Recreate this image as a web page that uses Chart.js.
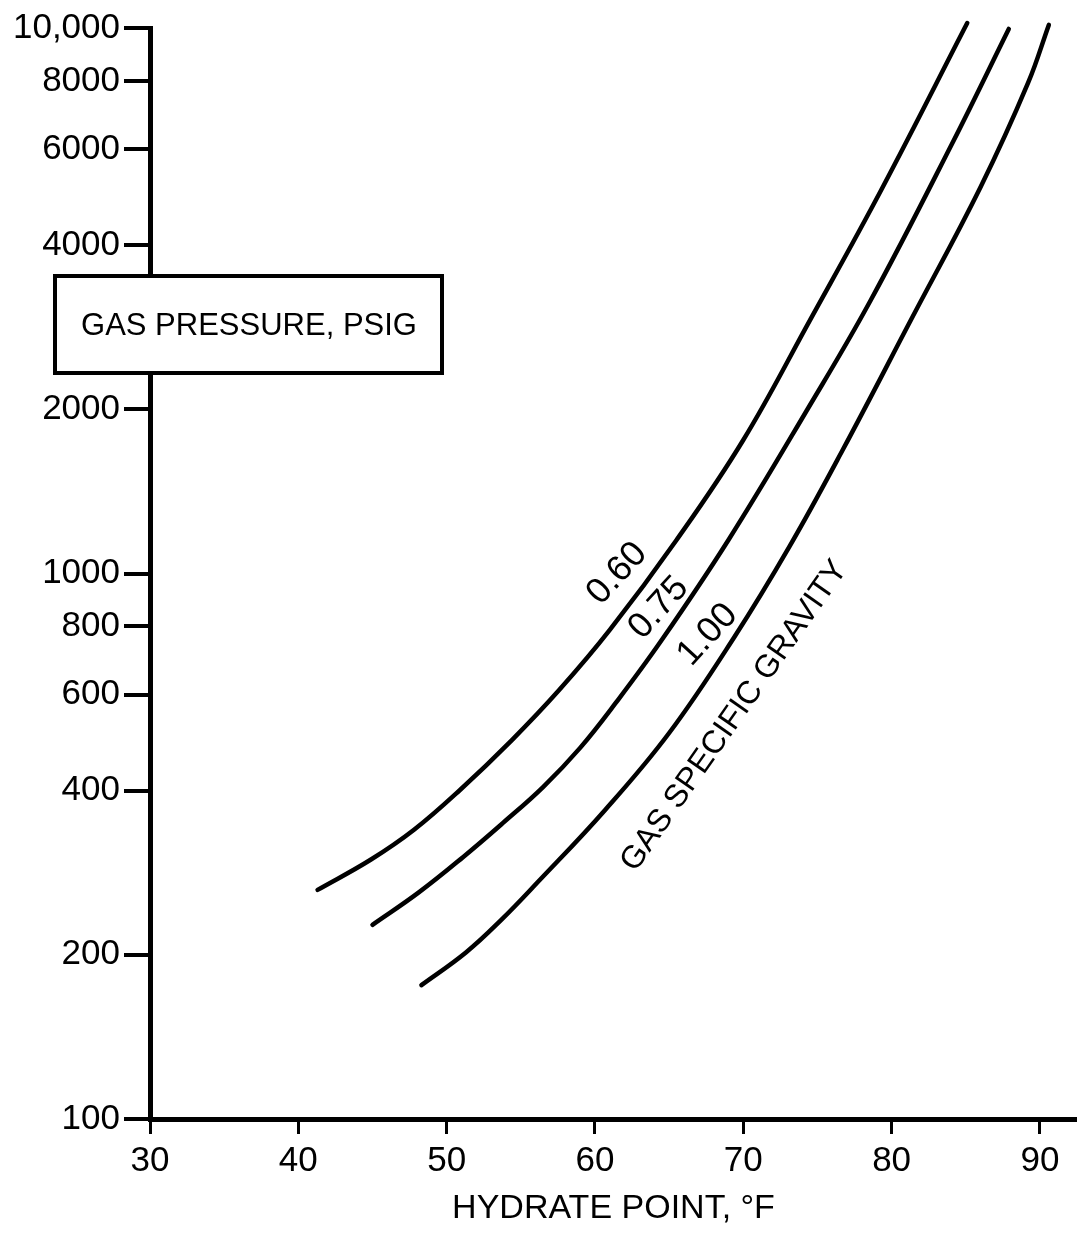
<!DOCTYPE html>
<html>
<head>
<meta charset="utf-8">
<title>Hydrate point vs gas pressure</title>
<script src="https://cdn.jsdelivr.net/npm/chart.js@4.4.1/dist/chart.umd.min.js"></script>
<style>
  html, body { margin: 0; padding: 0; background: #fff; }
  #wrap { width: 1077px; height: 1240px; position: relative; }
</style>
</head>
<body>
<div id="wrap"><canvas id="hydrateChart"></canvas></div>
<script>
// hydrate point (deg F) against gas pressure (psig), one curve per gas gravity
const sg060Temp = [41.3, 44.9, 47.8, 50.9, 54.4, 57.6, 61.0, 65.5, 70.0, 74.5, 79.3, 85.1];
const sg060Psi  = [263, 299, 339, 401, 495, 612, 788, 1152, 1757, 2915, 5047, 10210];

const sg075Temp = [45.0, 48.1, 51.1, 53.8, 56.5, 59.0, 61.4, 64.5, 69.0, 74.3, 78.6, 84.1, 87.9];
const sg075Psi  = [227, 260, 302, 349, 406, 479, 579, 755, 1152, 1994, 3172, 6155, 9960];

const sg100Temp = [48.3, 51.3, 53.7, 56.1, 60.7, 65.0, 69.4, 73.1, 76.7, 81.3, 86.0, 89.2, 90.6];
const sg100Psi  = [176, 202, 232, 271, 369, 510, 765, 1119, 1684, 2915, 5111, 7929, 10130];

const xTicks = [30, 40, 50, 60, 70, 80, 90];
const yTicks = [100, 200, 400, 600, 800, 1000, 2000, 4000, 6000, 8000, 10000];

const curveLabels = ['0.60', '0.75', '1.00'];
const curveLabelTemp = [61.5, 64.3, 67.6];
const curveLabelPsi = [1000, 865, 772];

const sans = '"Liberation Sans", Arial, sans-serif';

function toPoints(xs, ys) {
  return xs.map((t, i) => ({ x: t, y: ys[i] }));
}

function curve(xs, ys) {
  return {
    data: toPoints(xs, ys),
    borderColor: '#000',
    borderWidth: 4.5,
    borderCapStyle: 'round',
    pointRadius: 0,
    fill: false,
    tension: 0.4,
    clip: false
  };
}

const annotate = {
  id: 'annotate',
  afterDraw(chart) {
    const { ctx, scales: { x, y } } = chart;
    ctx.save();
    // boxed y-axis caption sitting on the axis line
    ctx.fillStyle = '#fff';
    ctx.fillRect(55, 276, 387, 97);
    ctx.lineWidth = 4;
    ctx.strokeStyle = '#000';
    ctx.strokeRect(55, 276, 387, 97);
    ctx.fillStyle = '#000';
    ctx.textAlign = 'center';
    ctx.textBaseline = 'middle';
    ctx.font = '31px ' + sans;
    ctx.fillText('GAS PRESSURE, PSIG', 249, 326);

    ctx.font = '36px ' + sans;
    curveLabels.forEach((txt, i) => {
      ctx.save();
      ctx.translate(x.getPixelForValue(curveLabelTemp[i]), y.getPixelForValue(curveLabelPsi[i]));
      ctx.rotate(-47.5 * Math.PI / 180);
      ctx.fillText(txt, 0, 0);
      ctx.restore();
    });

    ctx.save();
    ctx.translate(x.getPixelForValue(69.4), y.getPixelForValue(548));
    ctx.rotate(-55 * Math.PI / 180);
    ctx.font = '32px ' + sans;
    ctx.fillText('GAS SPECIFIC GRAVITY', 0, 0);
    ctx.restore();
    ctx.restore();
  }
};

new Chart(document.getElementById('hydrateChart'), {
  type: 'line',
  data: {
    datasets: [
      curve(sg060Temp, sg060Psi),
      curve(sg075Temp, sg075Psi),
      curve(sg100Temp, sg100Psi)
    ]
  },
  options: {
    responsive: true,
    maintainAspectRatio: false,
    animation: false,
    layout: { padding: { top: 28, right: 0, bottom: 0, left: 0 } },
    plugins: { legend: { display: false }, tooltip: { enabled: false } },
    scales: {
      x: {
        type: 'linear',
        min: 30,
        max: 92.5,
        afterBuildTicks: s => { s.ticks = xTicks.map(v => ({ value: v })); },
        afterFit: s => { s.height = 121; },
        border: { display: true, color: '#000', width: 5 },
        grid: { drawOnChartArea: false, drawTicks: true, tickLength: 15, color: '#000', lineWidth: 3 },
        ticks: { color: '#000', font: { family: sans, size: 35 }, padding: 6, autoSkip: false, maxRotation: 0 },
        title: { display: true, text: 'HYDRATE POINT, °F', color: '#000', font: { family: sans, size: 34 }, padding: { top: 11, bottom: 11 } }
      },
      y: {
        type: 'logarithmic',
        min: 100,
        max: 10000,
        afterBuildTicks: s => { s.ticks = yTicks.map(v => ({ value: v })); },
        afterFit: s => { s.width = 150; },
        border: { display: true, color: '#000', width: 5 },
        grid: { drawOnChartArea: false, drawTicks: true, tickLength: 26, color: '#000', lineWidth: 4 },
        ticks: {
          color: '#000',
          font: { family: sans, size: 35 },
          padding: 4,
          autoSkip: false,
          callback: v => v === 10000 ? '10,000' : String(v)
        }
      }
    }
  },
  plugins: [annotate]
});
</script>
</body>
</html>
